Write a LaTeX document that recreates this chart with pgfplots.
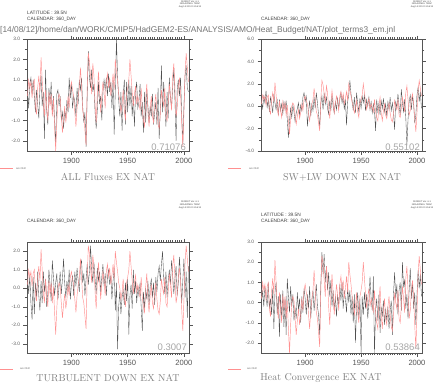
\documentclass[border=0pt]{standalone}
\usepackage{pgfplots}
\pgfplotsset{compat=1.18}
\usepackage{pgfplotstable}
\usepackage{fontspec}
\newfontfamily\hsans{Liberation Sans}
\definecolor{blk}{HTML}{505050}
\definecolor{ohc}{HTML}{FF9090}
\definecolor{axc}{HTML}{555555}
\pgfplotstableread{
year ohc a b c d
1861 0.2 0.5 0.4 0.5 0.0
1862 1.0 -0.4 -0.2 -0.3 0.6
1863 0.6 0.8 0.9 0.7 -0.2
1864 0.9 1.1 0.3 -0.8 0.8
1865 0.1 0.3 1.4 -1.7 0.3
1866 0.8 1.0 -0.1 0.6 -0.2
1867 1.0 0.2 0.6 -1.4 1.0
1868 -0.3 -0.6 -0.5 0.3 -0.3
1869 -0.7 0.5 0.8 -0.5 0.2
1870 0.6 -0.2 0.2 0.9 -0.6
1871 1.2 -0.9 -0.6 -0.4 0.7
1872 0.4 0.6 1.1 -1.2 -1.3
1873 2.1 1.2 0.3 0.4 0.5
1874 1.0 -0.3 -0.3 -0.8 1.0
1875 -0.2 0.4 0.5 0.9 -0.6
1876 -0.8 -1.9 -0.8 -0.2 0.3
1877 0.5 1.5 0.6 0.5 -1.7
1878 -0.4 -0.5 -0.4 -1.0 0.4
1879 -1.0 -1.2 0.2 -0.3 -0.9
1880 0.4 0.6 -0.7 1.0 0.6
1881 -0.3 -0.2 0.4 0.2 -1.2
1882 0.3 0.9 -0.3 -0.7 0.2
1883 -0.8 -0.7 0.5 1.5 -1.6
1884 0.1 0.2 -1.2 0.6 1.2
1885 -1.3 -1.0 -2.8 -0.4 0.3
1886 -2.5 -2.2 -1.3 0.3 -0.5
1887 -1.1 0.3 -0.2 0.8 0.8
1888 0.0 0.5 -1.0 -0.6 -0.2
1889 0.3 -0.3 0.1 0.1 0.4
1890 0.1 0.2 -0.5 0.9 -0.9
1891 -0.8 -1.0 -1.4 -0.3 -0.3
1892 -1.6 -0.6 -0.6 0.5 -0.8
1893 -0.9 -1.4 -0.2 1.6 0.5
1894 -0.3 -0.5 0.3 0.3 -0.4
1895 -1.1 -0.9 -0.8 -0.5 0.2
1896 -0.6 0.0 0.1 0.4 -1.0
1897 0.2 -0.6 -0.4 -0.2 0.3
1898 -0.4 1.1 0.8 1.0 -0.5
1899 0.6 0.1 1.2 -0.6 0.7
1900 0.9 0.8 0.4 0.2 0.2
1901 0.5 -0.4 0.9 0.7 -0.6
1902 0.2 0.2 -1.8 -0.4 0.4
1903 -0.6 -0.1 -0.5 0.9 -0.3
1904 -1.3 -0.8 0.5 0.1 0.8
1905 -0.4 0.6 -0.9 1.1 -0.8
1906 0.2 -0.2 0.2 0.4 0.1
1907 0.6 1.0 -0.4 -0.2 0.6
1908 1.6 0.5 0.8 1.2 -0.4
1909 0.6 1.1 -0.2 1.5 0.3
1910 -0.5 -0.3 1.2 0.3 0.9
1911 -0.8 -1.1 0.3 0.8 -0.2
1912 -1.5 -0.6 -0.8 -0.4 -0.6
1913 -2.2 -2.3 -1.9 0.5 -1.6
1914 0.6 0.2 0.2 1.3 0.9
1915 2.3 2.4 0.9 0.2 2.5
1916 1.9 1.1 -0.3 0.9 1.4
1917 1.1 0.6 1.2 2.3 2.4
1918 0.3 1.5 0.2 1.0 1.0
1919 1.8 0.4 0.8 0.3 1.8
1920 1.2 0.8 -0.2 1.4 0.6
1921 -0.2 -0.6 -0.7 0.5 1.5
1922 -1.1 -1.4 0.5 -0.3 0.3
1923 0.3 -0.5 -0.4 1.1 1.1
1924 1.4 0.9 1.0 0.4 -0.2
1925 0.5 -0.2 0.0 0.9 0.6
1926 -0.6 0.2 -0.6 -0.2 -0.4
1927 0.2 -1.0 0.4 0.6 0.3
1928 0.9 0.4 -0.3 1.3 -0.7
1929 0.4 1.0 0.7 0.1 0.4
1930 -0.4 0.5 -0.2 0.8 -0.2
1931 0.9 1.1 0.6 -0.4 0.9
1932 1.3 0.2 1.2 0.6 0.1
1933 0.6 1.3 0.3 1.0 1.0
1934 1.1 0.4 0.9 0.2 -0.3
1935 0.2 0.9 -0.3 0.7 0.6
1936 0.7 -0.4 0.6 -0.6 0.2
1937 1.3 1.0 -1.7 0.4 -0.5
1938 0.5 -1.7 0.4 1.1 0.8
1939 2.0 0.5 1.0 -1.2 0.0
1940 1.4 3.0 2.3 0.3 0.6
1941 0.9 1.2 1.1 -3.3 -0.6
1942 0.3 0.0 0.5 -1.0 0.3
1943 0.0 -0.8 -0.4 -0.2 -1.0
1944 -0.6 0.4 0.8 -1.4 0.4
1945 -0.2 -1.5 -0.6 -0.5 -2.0
1946 0.5 0.2 1.2 -0.1 -0.2
1947 -0.5 1.0 0.2 -0.9 0.5
1948 -1.0 -1.2 -0.5 0.3 -0.8
1949 0.3 0.9 0.7 -0.7 0.2
1950 0.6 -0.6 -0.2 0.5 -2.5
1951 1.0 1.0 0.9 -2.5 0.3
1952 2.0 -0.3 0.3 -0.4 -0.6
1953 1.2 0.7 1.0 0.2 0.5
1954 0.4 -0.8 -0.4 -1.1 -0.3
1955 -0.3 0.2 0.6 1.0 0.4
1956 0.3 -1.3 0.0 -0.3 -0.8
1957 0.7 0.4 0.8 0.4 0.1
1958 -0.2 0.9 -0.3 -0.8 1.3
1959 0.2 -0.4 0.4 0.1 0.2
1960 -0.1 -0.1 -0.6 -0.4 -0.4
1961 -0.5 0.8 0.2 0.3 1.3
1962 0.6 -0.8 -0.4 -1.0 -2.5
1963 -0.5 -0.1 -2.2 -2.3 -0.4
1964 -1.0 -1.6 0.6 -0.2 0.2
1965 -1.3 0.4 -0.5 -1.1 -0.9
1966 0.1 -1.1 0.3 0.0 0.4
1967 0.8 0.5 -0.8 -0.6 -1.5
1968 -0.6 -0.3 0.5 0.4 -0.2
1969 -1.3 -1.1 -0.2 -0.9 -0.7
1970 -0.4 -0.3 0.7 0.1 0.1
1971 0.2 -0.8 -0.5 0.5 -1.1
1972 -0.8 0.3 0.2 -0.5 -0.3
1973 -1.1 -1.2 -0.9 0.3 -0.9
1974 -0.2 -0.6 0.4 -0.9 -0.2
1975 0.3 -0.1 -0.3 0.6 -1.3
1976 -0.6 -1.2 0.8 -0.2 -0.4
1977 -1.2 0.6 -0.4 0.8 0.1
1978 -1.4 -1.9 0.3 1.2 -1.6
1979 -0.7 -0.4 -0.6 0.4 0.4
1980 0.5 1.7 -2.1 1.3 1.5
1981 0.0 -0.6 0.5 2.0 0.2
1982 -0.3 0.9 -0.2 0.6 0.9
1983 0.6 -0.2 1.1 -0.3 -0.6
1984 -0.8 -1.3 0.0 0.9 0.6
1985 -1.0 0.4 -0.8 -0.5 1.0
1986 -0.2 -0.9 1.5 0.4 -0.4
1987 0.8 1.1 0.3 1.0 2.0
1988 0.2 0.1 -0.5 0.2 0.8
1989 -0.5 -0.4 0.6 1.5 1.1
1990 1.2 0.6 -1.0 0.7 -0.3
1991 1.8 1.6 -3.5 -0.3 0.4
1992 0.6 0.0 -1.2 0.5 -0.8
1993 -0.8 -2.0 0.4 1.2 0.6
1994 -0.4 0.5 1.0 -0.4 1.7
1995 0.6 1.0 -0.3 0.3 0.2
1996 1.1 0.2 0.9 1.7 1.0
1997 0.3 1.1 0.2 0.6 -0.3
1998 -1.1 -0.7 -1.5 -0.8 0.5
1999 -2.3 -2.1 -0.8 0.4 -1.1
2000 -0.6 -0.3 1.0 1.6 0.4
2001 1.4 1.2 1.7 -0.5 1.6
2002 2.3 1.7 0.4 0.9 0.7
2003 1.6 0.6 1.3 -1.6 1.4
2004 0.9 0.4 -0.2 1.2 0.3
}\data
\pgfplotsset{
  ferret/.style={
    scale only axis, anchor=south west,
    xmin=1860.5, xmax=2004.5,
    xtick={1900,1950,2000}, minor x tick num=24,
    minor y tick num=1,
    tick align=outside,
    major tick length=3.5pt, minor tick length=2pt,
    axis line style={axc, line width=0.6pt},
    every tick/.style={axc, line width=0.4pt},
    x tick label style={font=\hsans\fontsize{7.6}{7.6}\selectfont, text=axc,
      /pgf/number format/1000 sep={}, yshift=-0.5pt},
    y tick label style={font=\hsans\fontsize{4.8}{4.8}\selectfont, text=axc,
      /pgf/number format/fixed, /pgf/number format/fixed zerofill,
      /pgf/number format/precision=1},
    /pgf/number format/assume math mode=true,
    clip=true,
  },
  blkline/.style={blk, line width=0.35pt},
  ohcline/.style={ohc, line width=0.45pt},
}
\newcommand{\stamp}[2]{\node[anchor=north, font=\hsans\fontsize{2.3}{2.6}\selectfont, text=black!75, align=center, inner sep=0pt] at (#1pt,-#2pt) {FERRET Ver. 6.1\\NOAA/PMEL TMAP\\Aug 14 2012 11:56:13};}
\newcommand{\hdr}[3]{\node[anchor=west, font=\hsans\fontsize{4.8}{4.8}\selectfont, text=black!75, inner sep=0pt] at (#1pt,-#2pt) {#3};}
\newcommand{\ttl}[3]{\node[font=\fontsize{10}{10}\selectfont, text=black!50, inner sep=0pt] at (#1pt,-#2pt) {#3};}
\newcommand{\corr}[3]{\node[anchor=east, font=\hsans\fontsize{9.5}{9.5}\selectfont, text=black!35, inner sep=0pt] at (#1pt,-#2pt) {#3};}
\newcommand{\leg}[3]{\draw[ohc, line width=0.5pt] (#1pt,-#3pt) -- ++(13pt,0);
  \node[anchor=west, font=\hsans\fontsize{2.6}{2.6}\selectfont, text=black!60, inner sep=0pt] at (#2pt,-#3pt) {a/e OHC};}
\begin{document}
\begin{tikzpicture}
\useasboundingbox (0,0) rectangle (440pt,-384pt);
% Panel 1
\begin{axis}[ferret, at={(27pt,-151pt)}, width=162pt, height=112pt,
  ymin=-2.5, ymax=3, ytick={-2,-1,0,1,2,3}]
  \addplot[blkline] table[x=year,y=a] {\data};
  \addplot[ohcline] table[x=year,y=ohc] {\data};
\end{axis}
% Panel 2
\begin{axis}[ferret, at={(261pt,-151pt)}, width=161pt, height=112pt,
  ymin=-4, ymax=6, ytick={-4,-2,0,2,4,6}]
  \addplot[blkline] table[x=year,y=b] {\data};
  \addplot[ohcline] table[x=year,y=ohc] {\data};
\end{axis}
% Panel 3
\begin{axis}[ferret, at={(27pt,-353pt)}, width=162pt, height=111pt,
  ymin=-3.5, ymax=2.5, ytick={-3,-2,-1,0,1,2}]
  \addplot[blkline] table[x=year,y=c] {\data};
  \addplot[ohcline] table[x=year,y=ohc] {\data};
\end{axis}
% Panel 4
\begin{axis}[ferret, at={(261pt,-353pt)}, width=161pt, height=111pt,
  ymin=-2.5, ymax=3, ytick={-2,-1,0,1,2,3}]
  \addplot[blkline] table[x=year,y=d] {\data};
  \addplot[ohcline] table[x=year,y=ohc] {\data};
\end{axis}
% annotations
\stamp{190}{0.5}
\stamp{422}{0.5}
\stamp{190}{201}
\stamp{422}{201}
\hdr{27}{13}{LATITUDE : 39.5N}
\hdr{27}{19.5}{CALENDAR: 360\_DAY}
\hdr{261}{19.5}{CALENDAR: 360\_DAY}
\hdr{27}{221}{CALENDAR: 360\_DAY}
\hdr{261}{215}{LATITUDE : 39.5N}
\hdr{261}{221}{CALENDAR: 360\_DAY}
\node[anchor=west, inner sep=0pt, text=black!55] at (0pt,-30pt) {\resizebox{395pt}{!}{\hsans [14/08/12]/home/dan/WORK/CMIP5/HadGEM2-ES/ANALYSIS/AMO/Heat\_Budget/NAT/plot\_terms3\_em.jnl}};
\ttl{108}{177}{ALL Fluxes EX NAT}
\ttl{342}{177}{SW+LW DOWN EX NAT}
\ttl{108}{378}{TURBULENT DOWN EX NAT}
\ttl{321}{378}{Heat Convergence EX NAT}
\corr{186}{147}{0.71076}
\corr{420}{147}{0.55102}
\corr{187}{347}{0.3007}
\corr{420}{347}{0.53864}
\leg{0}{16}{168.5}
\leg{228}{249}{168.5}
\leg{0}{20}{369}
\leg{228}{247}{369}
\end{tikzpicture}
\end{document}
